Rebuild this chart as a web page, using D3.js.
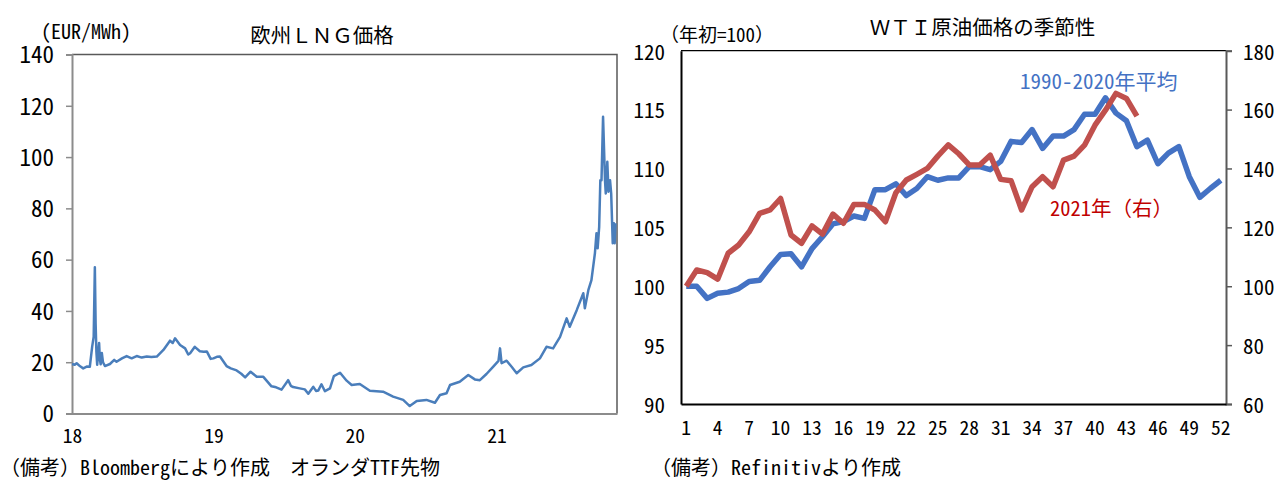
<!DOCTYPE html>
<html lang="ja">
<head>
<meta charset="UTF-8" />
<title>欧州LNG価格 / WTI原油価格の季節性</title>
<script src="https://cdn.jsdelivr.net/npm/d3@7"></script>
<style>
  html, body { margin: 0; padding: 0; background: #fff; }
  svg { display: block; }
</style>
</head>
<body>
<script>
// ----------------------------
// Data: left panel (TTF, EUR/MWh)
// ----------------------------
const lngDates = [
  "2018-01-01","2018-01-08","2018-01-13","2018-01-22","2018-01-30","2018-02-08","2018-02-16","2018-02-22",
  "2018-02-26","2018-03-01","2018-03-03","2018-03-05","2018-03-07","2018-03-12","2018-03-14","2018-03-16",
  "2018-03-19","2018-03-22","2018-03-27","2018-04-09","2018-04-20","2018-04-26","2018-05-10","2018-05-22",
  "2018-06-04","2018-06-17","2018-06-30","2018-07-13","2018-07-25","2018-08-08","2018-08-25","2018-09-11",
  "2018-09-18","2018-09-24","2018-10-07","2018-10-20","2018-10-28","2018-11-02","2018-11-14","2018-11-27",
  "2018-12-07","2018-12-15","2018-12-25",
  "2019-01-01","2019-01-10","2019-01-18","2019-02-04","2019-02-15","2019-03-02","2019-03-14","2019-03-24",
  "2019-04-07","2019-04-23","2019-05-10","2019-05-31","2019-06-12","2019-06-26","2019-07-13","2019-07-20",
  "2019-07-26","2019-08-12","2019-08-25","2019-09-03","2019-09-16","2019-09-23","2019-09-29","2019-10-07",
  "2019-10-16","2019-10-29","2019-11-08","2019-11-24","2019-12-11","2019-12-24",
  "2020-01-14","2020-02-09","2020-03-14","2020-04-09","2020-05-05","2020-05-22","2020-06-09","2020-07-04",
  "2020-07-26","2020-08-08","2020-08-25","2020-09-03","2020-09-28","2020-10-20","2020-11-06","2020-11-19",
  "2020-12-06","2020-12-23",
  "2021-01-06","2021-01-10","2021-01-14","2021-01-27","2021-02-09","2021-02-22","2021-03-11","2021-04-01",
  "2021-04-23","2021-05-10","2021-05-27","2021-06-14","2021-07-01","2021-07-09","2021-07-27","2021-08-13",
  "2021-08-17","2021-08-26","2021-09-03","2021-09-12","2021-09-16","2021-09-19","2021-09-23","2021-09-26",
  "2021-09-29","2021-10-03","2021-10-08","2021-10-10","2021-10-14","2021-10-17","2021-10-21","2021-10-24",
  "2021-10-28","2021-10-31","2021-11-02","2021-11-04"
];
const lngValues = [
  19.3, 19.0, 19.6, 18.4, 17.6, 18.3, 18.2, 26.0,
  30.0, 57.0, 35.0, 24.0, 19.0, 27.5, 21.0, 19.2,
  23.6, 20.0, 18.5, 19.3, 20.9, 20.2, 21.5, 22.4,
  21.5, 22.4, 21.8, 22.2, 22.0, 22.2, 24.8, 28.4,
  27.5, 29.3, 26.7, 25.4, 23.0, 23.5, 26.0, 24.3,
  24.1, 24.2, 21.3,
  21.5, 22.1, 22.2, 18.5, 17.6, 16.8, 15.5, 14.1,
  16.3, 14.3, 14.3, 10.6, 10.2, 9.3, 13.0, 10.8,
  10.3, 9.8, 9.4, 7.7, 10.4, 8.8, 9.0, 11.4,
  8.7, 9.8, 14.6, 15.9, 12.8, 11.1,
  11.5, 8.9, 8.5, 6.6, 5.3, 2.9, 4.9, 5.3,
  4.2, 7.2, 7.9, 11.1, 12.4, 15.0, 13.3, 13.0,
  15.4, 18.2,
  20.5, 25.4, 19.6, 20.6, 18.2, 15.7, 18.0, 18.9,
  21.5, 26.0, 25.4, 29.9, 37.1, 33.8, 40.3, 46.9,
  41.0, 48.1, 52.0, 62.5, 70.3, 64.4, 72.8, 91.0,
  91.0, 115.7, 91.0, 85.8, 98.2, 86.5, 91.0, 85.8,
  66.4, 74.2, 66.4, 74.2
];
const lngYTicks = [0, 20, 40, 60, 80, 100, 120, 140];
const lngXTicks = ["2018-01-01", "2019-01-01", "2020-01-01", "2021-01-01"];

// ----------------------------
// Data: right panel (WTI seasonality, by week)
// ----------------------------
const weeks = d3.range(1, 53);
const avgValues = [
  100.0, 100.0, 98.97, 99.4, 99.5, 99.8, 100.4, 100.5, 101.65, 102.7,
  102.75, 101.65, 103.2, 104.2, 105.3, 105.5, 105.96, 105.76, 108.2, 108.2,
  108.7, 107.7, 108.3, 109.3, 109.0, 109.2, 109.2, 110.15, 110.15, 109.9,
  110.6, 112.3, 112.2, 113.3, 111.7, 112.75, 112.75, 113.3, 114.6, 114.6,
  116.0, 114.7, 114.05, 111.85, 112.4, 110.4, 111.3, 111.85, 109.3, 107.55,
  108.3, 109.0
];
const y2021Values = [
  100, 105.5, 104.6, 102.4, 111.2, 114, 118.5, 124.75, 125.9, 129.8,
  117.4, 114.6, 120.5, 117.7, 124.5, 121.4, 127.8, 127.8, 125.9, 121.9,
  131.75, 136.1, 138, 140, 144.2, 148, 145, 141.2, 141.2, 144.5,
  136.3, 135.8, 125.9, 133.8, 137.2, 133.8, 142.85, 144.2, 147.9, 154.7,
  159.8, 165.5, 163.8, 157.8
];
const wtiLeftTicks = [90, 95, 100, 105, 110, 115, 120];
const wtiRightTicks = [60, 80, 100, 120, 140, 160, 180];
const weekTicks = d3.range(1, 53, 3);

// ----------------------------
// Setup
// ----------------------------
const W = 1288, H = 490;
const FONT = '"Noto Sans Mono CJK JP", "Noto Sans CJK JP", sans-serif';
// narrow latin face for the numbers (falls back to the CJK mono face)
const NUM_FONT = '"Liberation Sans Narrow", "Noto Sans Mono CJK JP", sans-serif';
const parse = d3.timeParse("%Y-%m-%d");

const svg = d3.select("body").append("svg")
  .attr("width", W).attr("height", H)
  .style("font-family", FONT);

svg.append("rect").attr("width", W).attr("height", H).attr("fill", "#fff");

function addText(x, y, txt, size, opts = {}) {
  return svg.append("text")
    .attr("x", x).attr("y", y)
    .attr("dominant-baseline", "central")
    .attr("text-anchor", opts.anchor || "start")
    .attr("font-size", size)
    .attr("font-family", opts.font || FONT)
    .attr("fill", opts.color || "#000")
    .text(txt);
}

// ----------------------------
// Left panel
// ----------------------------
const L = { x0: 72, x1: 617, y0: 54.5, y1: 413.5 };

const xL = d3.scaleTime()
  .domain([parse("2018-01-01"), parse("2021-11-08")])
  .range([L.x0, L.x1]);
const yL = d3.scaleLinear().domain([0, 140]).range([L.y1, L.y0]);

// frame (top & right)
svg.append("path")
  .attr("d", `M${L.x0},${L.y0}H${L.x1}V${L.y1}`)
  .attr("fill", "none").attr("stroke", "#595959").attr("stroke-width", 1.5);

const gLy = svg.append("g")
  .attr("transform", `translate(${L.x0},0)`)
  .call(d3.axisLeft(yL).tickValues(lngYTicks).tickSize(6).tickPadding(12));
gLy.select(".domain").attr("stroke", "#8c8c8c").attr("stroke-width", 2);
gLy.selectAll(".tick line").attr("stroke", "#8c8c8c").attr("stroke-width", 1.5);
gLy.selectAll(".tick text")
  .attr("font-size", 23).attr("font-family", NUM_FONT).attr("fill", "#000")
  .attr("dy", "0.36em");

const gLx = svg.append("g")
  .attr("transform", `translate(0,${L.y1})`)
  .call(d3.axisBottom(xL).tickValues(lngXTicks.map(parse))
    .tickSize(0).tickFormat(d3.timeFormat("%y")));
gLx.select(".domain").attr("stroke", "#8c8c8c").attr("stroke-width", 2);
gLx.selectAll(".tick text")
  .attr("font-size", 19.5).attr("font-family", NUM_FONT).attr("fill", "#000")
  .attr("y", 22.5).attr("dy", "0.36em");

const lngLine = d3.line()
  .x((d, i) => xL(parse(lngDates[i])))
  .y(d => yL(d));

svg.append("path")
  .datum(lngValues)
  .attr("d", lngLine)
  .attr("fill", "none")
  .attr("stroke", "#4A7EBB")
  .attr("stroke-width", 2.5)
  .attr("stroke-linejoin", "round");

addText(322, 34, "欧州ＬＮＧ価格", 20.5, { anchor: "middle" });
addText(41, 30, "(EUR/MWh)", 20, { font: NUM_FONT });
addText(0, 466, "（備考）Bloombergにより作成　オランダTTF先物", 20);

// ----------------------------
// Right panel
// ----------------------------
const R = { x0: 681, x1: 1226, y0: 50.7, y1: 404 };

const xR = d3.scaleBand().domain(weeks).range([R.x0, R.x1]);
const xc = w => xR(w) + xR.bandwidth() / 2;
const yR1 = d3.scaleLinear().domain([90, 120]).range([R.y1, R.y0]);
const yR2 = d3.scaleLinear().domain([60, 180]).range([R.y1, R.y0]);

// top border
svg.append("line")
  .attr("x1", R.x0).attr("x2", R.x1).attr("y1", R.y0).attr("y2", R.y0)
  .attr("stroke", "#000").attr("stroke-width", 1.2);

const gR1 = svg.append("g")
  .attr("transform", `translate(${R.x0},0)`)
  .call(d3.axisLeft(yR1).tickValues(wtiLeftTicks).tickSize(0).tickPadding(16));
gR1.select(".domain").attr("stroke", "#000").attr("stroke-width", 2);
gR1.selectAll(".tick text")
  .attr("font-size", 21).attr("font-family", NUM_FONT).attr("fill", "#000")
  .attr("dy", "0.4em");

const gR2 = svg.append("g")
  .attr("transform", `translate(${R.x1},0)`)
  .call(d3.axisRight(yR2).tickValues(wtiRightTicks).tickSize(6).tickPadding(11));
gR2.select(".domain").attr("stroke", "#595959").attr("stroke-width", 2);
gR2.selectAll(".tick line").attr("stroke", "#595959").attr("stroke-width", 1.5);
gR2.selectAll(".tick text")
  .attr("font-size", 21).attr("font-family", NUM_FONT).attr("fill", "#000")
  .attr("dy", "0.4em");

const gRx = svg.append("g")
  .attr("transform", `translate(0,${R.y1})`)
  .call(d3.axisBottom(xR).tickValues(weekTicks).tickSize(0));
gRx.select(".domain").attr("stroke", "#000").attr("stroke-width", 2);
gRx.selectAll(".tick text")
  .attr("font-size", 19.5).attr("font-family", NUM_FONT).attr("fill", "#000")
  .attr("y", 24).attr("dy", "0.36em");

svg.append("path")
  .datum(avgValues)
  .attr("d", d3.line().x((d, i) => xc(weeks[i])).y(d => yR1(d)))
  .attr("fill", "none")
  .attr("stroke", "#4472C4")
  .attr("stroke-width", 5.5)
  .attr("stroke-linejoin", "round");

svg.append("path")
  .datum(y2021Values)
  .attr("d", d3.line().x((d, i) => xc(weeks[i])).y(d => yR2(d)))
  .attr("fill", "none")
  .attr("stroke", "#C0504D")
  .attr("stroke-width", 5.5)
  .attr("stroke-linejoin", "round");

addText(982.5, 26, "ＷＴＩ原油価格の季節性", 20.5, { anchor: "middle" });
addText(660, 33, "（年初=100）", 19);
addText(1020, 80, "1990-2020年平均", 21, { color: "#4472C4" });
addText(1050, 207, "2021年（右）", 20.5, { color: "#C00000" });
addText(651, 466, "（備考）Refinitivより作成", 20);
</script>
</body>
</html>
